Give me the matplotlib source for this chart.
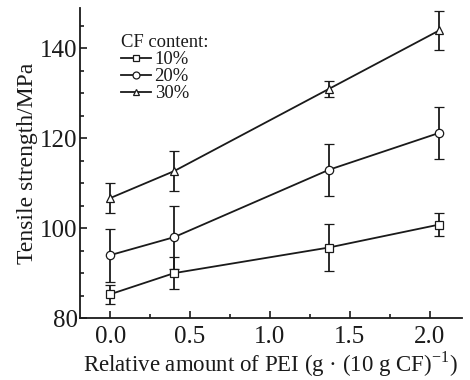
import matplotlib
matplotlib.use("Agg")
import matplotlib.pyplot as plt
from matplotlib.ticker import MultipleLocator
from matplotlib.lines import Line2D

plt.rcParams['font.family'] = ['Liberation Serif', 'DejaVu Serif']
plt.rcParams['mathtext.fontset'] = 'custom'
plt.rcParams['mathtext.rm'] = 'Liberation Serif'

pei = [0.0, 0.4, 1.37, 2.06]
labels = ["10%", "20%", "30%"]
s10 = [85.3, 90.0, 95.7, 100.8]
e10 = [2.1, 3.5, 5.2, 2.6]
s20 = [94.0, 98.0, 113.0, 121.2]
e20 = [5.9, 7.0, 5.8, 5.8]
s30 = [106.7, 112.7, 131.0, 144.0]
e30 = [3.4, 4.5, 1.8, 4.4]
markers = ["s", "o", "^"]

fig = plt.figure(figsize=(4.7, 3.8), dpi=100)
ax = fig.add_axes([0.170, 0.163, 0.812, 0.816])

col = "#1a1a1a"
handles = []
for y, e, m, lab in zip([s10, s20, s30], [e10, e20, e30], markers, labels):
    ax.errorbar(pei, y, yerr=e, color=col, lw=1.3, marker=m, ms=6,
                mfc="white", mec=col, mew=0.9, capsize=3.5, elinewidth=1.3,
                capthick=1.3)
    handles.append(Line2D([], [], color=col, lw=1.3, marker=m, ms=5,
                          mfc="white", mec=col, mew=0.9, label=lab))

ax.set_xlim(-0.19, 2.2)
ax.set_ylim(80, 149)
ax.xaxis.set_major_locator(MultipleLocator(0.5))
ax.xaxis.set_minor_locator(MultipleLocator(0.25))
ax.yaxis.set_major_locator(MultipleLocator(20))
ax.yaxis.set_minor_locator(MultipleLocator(5))
ax.set_xticks([0.0, 0.5, 1.0, 1.5, 2.0])
ax.set_xticklabels(["0.0", "0.5", "1.0", "1.5", "2.0"])
for s in ["top", "right"]:
    ax.spines[s].set_visible(False)
for s in ["left", "bottom"]:
    ax.spines[s].set_linewidth(1.3)
    ax.spines[s].set_color(col)
ax.tick_params(which="major", direction="in", length=5, width=1.2, labelsize=18, colors=col)
ax.tick_params(which="minor", direction="in", length=3, width=1.2, colors=col)
ax.tick_params(axis="x", which="major", pad=6)
ax.tick_params(axis="y", which="major", pad=1.5)

ax.set_ylabel("Tensile strength/MPa", fontsize=17, color=col, labelpad=2)
ax.set_xlabel("Relative amount of PEI (g \u00b7 (10 g CF)$^{\\mathregular{-1}}$)",
              fontsize=16.5, color=col, labelpad=0.5)

leg = ax.legend(handles=handles, title="CF content:", loc="upper left",
                bbox_to_anchor=(0.108, 0.915), frameon=False, fontsize=13.4,
                title_fontsize=13.4, handlelength=1.6, handletextpad=0.2,
                labelspacing=0.0, borderpad=0.0, borderaxespad=0.0)
leg._legend_box.align = "left"
leg._legend_box.sep = 0
for t in leg.get_texts():
    t.set_color(col)
leg.get_title().set_color(col)

fig.savefig("out.png", dpi=100)
